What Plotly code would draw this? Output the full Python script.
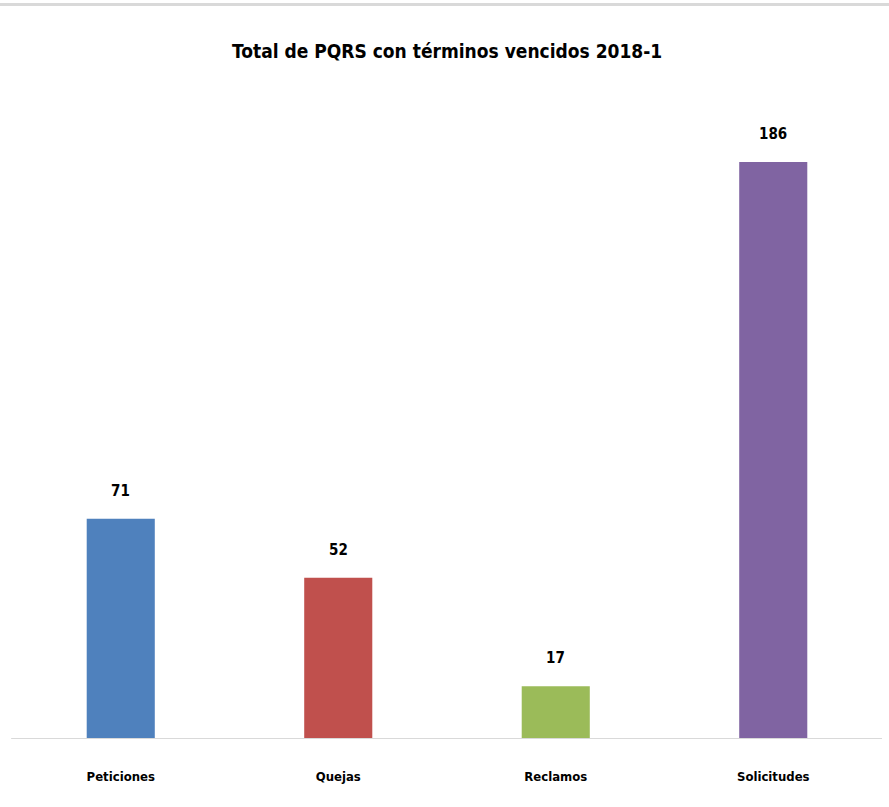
import plotly.graph_objects as go

categories = ["Peticiones", "Quejas", "Reclamos", "Solicitudes"]
values = [71, 52, 17, 186]
colors = ["#4F81BD", "#C0504D", "#9BBB59", "#8064A2"]

FONT = "DejaVu Sans Condensed, Liberation Sans Narrow, sans-serif"

W, H = 889, 807
ML, MR, MT, MB = 12, 7, 110, 68
plot_h = H - MT - MB

fig = go.Figure(
    go.Bar(
        x=categories,
        y=values,
        marker=dict(color=colors, line=dict(width=0)),
        width=0.313,
        hoverinfo="x+y",
    )
)

for c, v in zip(categories, values):
    fig.add_annotation(
        x=c, y=v, text=f"<b>{v}</b>", showarrow=False,
        yshift=28, font=dict(family=FONT, size=15, color="#000000"),
    )

top_line_y = (H - MB - 4.5) / plot_h

fig.update_layout(
    width=W,
    height=H,
    paper_bgcolor="white",
    plot_bgcolor="white",
    margin=dict(l=ML, r=MR, t=MT, b=MB),
    title=dict(
        text="<b>Total de PQRS con términos vencidos 2018-1</b>",
        x=0.503, xanchor="center", y=0.936, yanchor="middle",
        font=dict(family=FONT, size=19, color="#000000"),
    ),
    showlegend=False,
    xaxis=dict(
        showline=False,
        showgrid=False,
        ticks="",
        tickfont=dict(family=FONT, size=13, color="#000000"),
        ticklabelstandoff=28,
        tickprefix="<b>",
        ticksuffix="</b>",
    ),
    yaxis=dict(
        range=[0, 202.8],
        visible=False,
        showgrid=False,
        zeroline=False,
    ),
    shapes=[
        dict(type="line", xref="paper", yref="y", x0=-0.001, x1=1.0, y0=0, y1=0,
             line=dict(color="#D9D9D9", width=2)),
        dict(type="line", xref="paper", yref="paper", x0=-0.05, x1=1.05,
             y0=top_line_y, y1=top_line_y,
             line=dict(color="#D9D9D9", width=3)),
    ],
)

fig.write_html("out.html", config={"displayModeBar": False},
               post_script="document.body.style.margin='0';")
